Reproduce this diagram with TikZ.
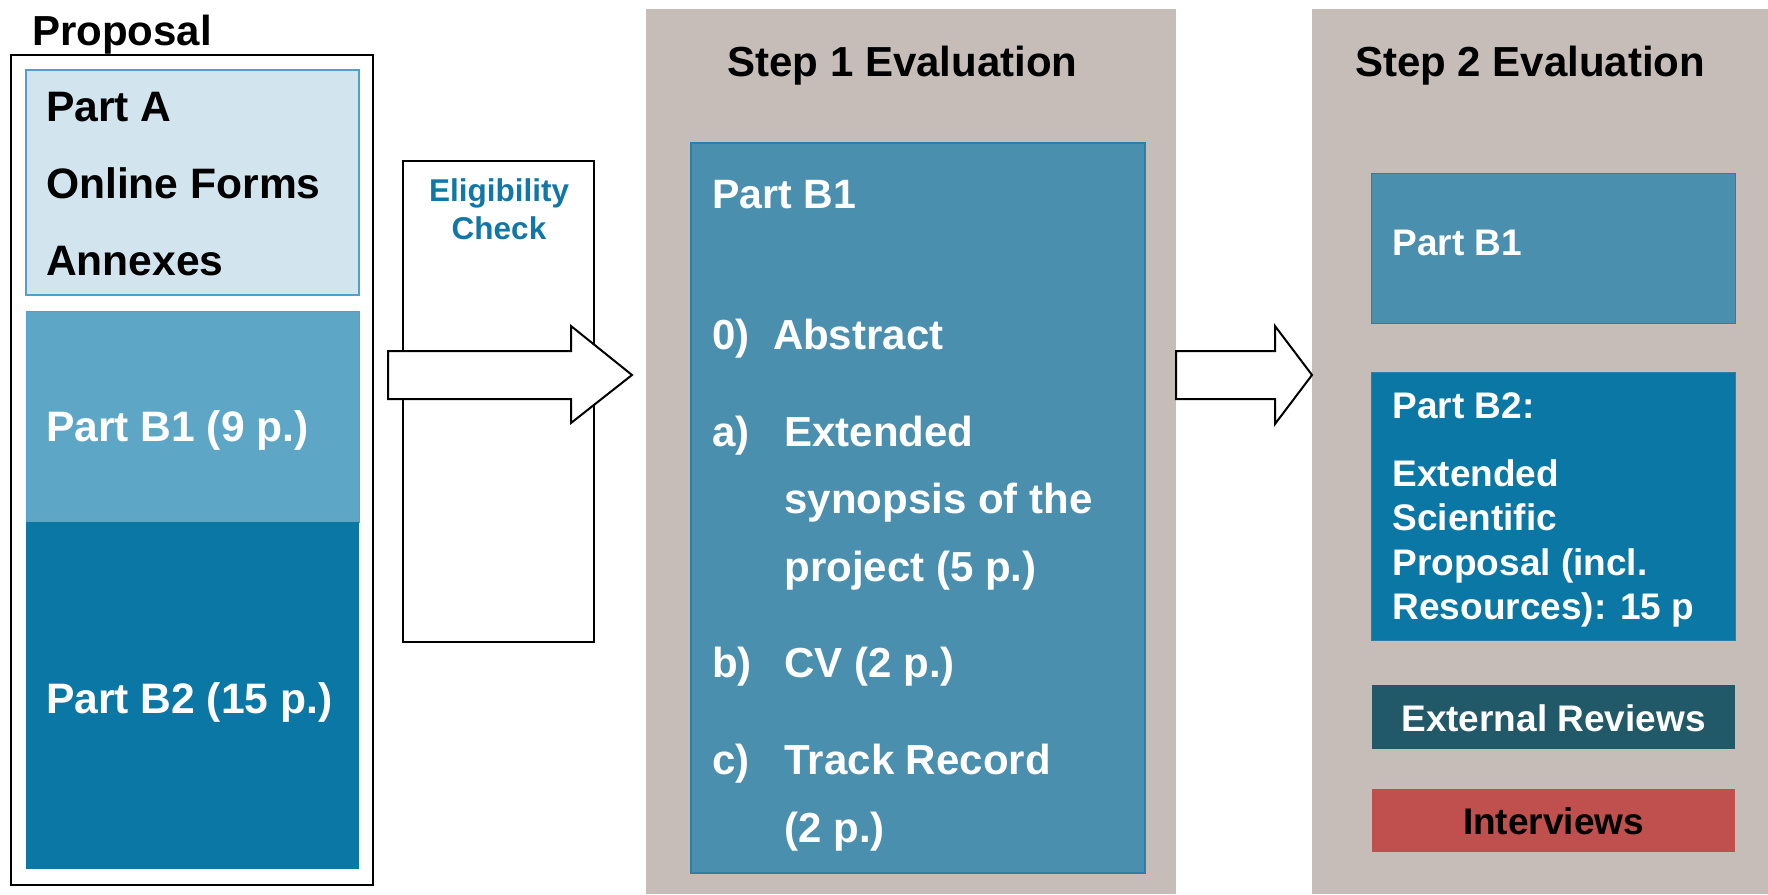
\documentclass[tikz,border=0pt]{standalone}
\usepackage{fontspec}
\setmainfont{Liberation Sans}
\usetikzlibrary{calc}
\definecolor{lightA}{HTML}{D2E5EE}
\definecolor{lightAline}{HTML}{4FA0CC}
\definecolor{midB}{HTML}{5DA6C5}
\definecolor{darkB}{HTML}{0A77A5}
\definecolor{stepB}{HTML}{4A8FAE}
\definecolor{stepBline}{HTML}{2E7FA6}
\definecolor{panel}{HTML}{C6BDB8}
\definecolor{extrev}{HTML}{215968}
\definecolor{interv}{HTML}{C0504D}
\definecolor{eligtext}{HTML}{1077A6}
\begin{document}
\begin{tikzpicture}[x=1pt,y=-1pt,
  box/.style={rectangle, anchor=north west, inner sep=0pt, outer sep=0pt},
  txt/.style={anchor=base west, inner sep=0pt, outer sep=0pt, text=white,
    font=\bfseries\fontsize{42}{50}\selectfont},
  proptxt/.style={txt, font=\bfseries\fontsize{42.6}{50}\selectfont},
  small/.style={txt, font=\bfseries\fontsize{37}{44}\selectfont},
  blockarrow/.style={draw=black, fill=white, line width=2pt, line join=miter}]
\useasboundingbox (0,0) rectangle (1768,894);

% ---------- proposal column ----------
\node[txt, text=black] (proptitle) at (32,45.6) {Proposal};
\node[box, draw=black, line width=2.5pt, minimum width=362pt, minimum height=830pt] (prop) at (11,55) {};
\node[box, fill=lightA, draw=lightAline, line width=1.2pt, minimum width=333pt, minimum height=225pt] (partA) at (26,70) {};
\node[proptxt, text=black] (tA1) at (46,121) {Part A};
\node[proptxt, text=black] (tA2) at (46,198) {Online Forms};
\node[proptxt, text=black] (tA3) at (46,275) {Annexes};
\node[box, fill=midB, draw=lightAline, line width=1pt, minimum width=333pt, minimum height=211pt] (partB1) at (26,311) {};
\node[box, fill=darkB, minimum width=333pt, minimum height=347pt] (partB2) at (26,522) {};
\node[proptxt] (tB1) at (46,441) {Part B1 (9 p.)};
\node[proptxt] (tB2) at (46,713) {Part B2 (15 p.)};

% ---------- eligibility check ----------
\node[box, draw=black, line width=2pt, minimum width=191pt, minimum height=481pt] (elig) at (403,161) {};
\node[anchor=base, inner sep=0pt, text=eligtext, font=\bfseries\fontsize{31.5}{38}\selectfont] (tE1) at (499,201.7) {Eligibility};
\node[anchor=base, inner sep=0pt, text=eligtext, font=\bfseries\fontsize{31.5}{38}\selectfont] (tE2) at (499,239) {Check};

% ---------- step 1 ----------
\node[box, fill=panel, minimum width=530pt, minimum height=885pt] (step1) at (646,9) {};
\node[txt, text=black] (s1title) at (727.5,76) {Step 1 Evaluation};
\node[box, fill=stepB, draw=stepBline, line width=1.2pt, minimum width=454pt, minimum height=730pt] (s1box) at (691,143) {};
\node[txt, font=\bfseries\fontsize{41}{50}\selectfont] (s1b1) at (712.5,208) {Part B1};
\node[txt] (l0) at (712,349) {0)};
\node[txt] (i0) at (773,349) {Abstract};
\node[txt] (la) at (712,446) {a)};
\node[txt] (ia1) at (784.6,446) {Extended};
\node[txt] (ia2) at (784.6,513) {synopsis of the};
\node[txt] (ia3) at (784.6,581.5) {project (5 p.)};
\node[txt] (lb) at (712,677) {b)};
\node[txt] (ib) at (784.6,677) {CV (2 p.)};
\node[txt] (lc) at (712,774) {c)};
\node[txt] (ic1) at (784.6,774) {Track Record};
\node[txt] (ic2) at (784.6,842) {(2 p.)};

% ---------- step 2 ----------
\node[box, fill=panel, minimum width=456pt, minimum height=885pt] (step2) at (1312,9) {};
\node[txt, text=black] (s2title) at (1355,76) {Step 2 Evaluation};
\node[box, fill=stepB, draw=stepBline, line width=1pt, minimum width=364pt, minimum height=150pt] (s2b1) at (1371,173) {};
\node[small] (ts2b1) at (1392.6,255) {Part B1};
\node[box, fill=darkB, draw=stepBline, line width=1pt, minimum width=364pt, minimum height=268pt] (s2b2) at (1371,372) {};
\node[small] (tb2a) at (1392.6,418) {Part B2:};
\node[small] (tb2b) at (1392.6,486) {Extended};
\node[small] (tb2c) at (1392.6,530) {Scientific};
\node[small] (tb2d) at (1392.6,575) {Proposal (incl.};
\node[small] (tb2e) at (1392.6,619) {Resources): 15 p};
\node[box, fill=extrev, minimum width=363pt, minimum height=64pt] (ext) at (1372,685) {};
\node[small, anchor=base] (text) at (1553.5,731) {External Reviews};
\node[box, fill=interv, minimum width=363pt, minimum height=63.5pt] (intv) at (1372,788.5) {};
\node[small, anchor=base, text=black] (tint) at (1553.5,834) {Interviews};

% ---------- block arrows ----------
\coordinate (a1s) at (388,375);
\coordinate (a1t) at (632,375);
\draw[blockarrow] ($(a1s)+(0,-24)$) -- (571,351) -- (571,326) -- (a1t) -- (571,423) -- (571,399) -- ($(a1s)+(0,24)$) -- cycle;
\coordinate (a2s) at (step1.east |- a1t);
\coordinate (a2t) at (step2.west |- a1t);
\draw[blockarrow] ($(a2s)+(0,-24)$) -- (1275,351) -- (1275,326) -- (a2t) -- (1275,424) -- (1275,399) -- ($(a2s)+(0,24)$) -- cycle;
\end{tikzpicture}
\end{document}
